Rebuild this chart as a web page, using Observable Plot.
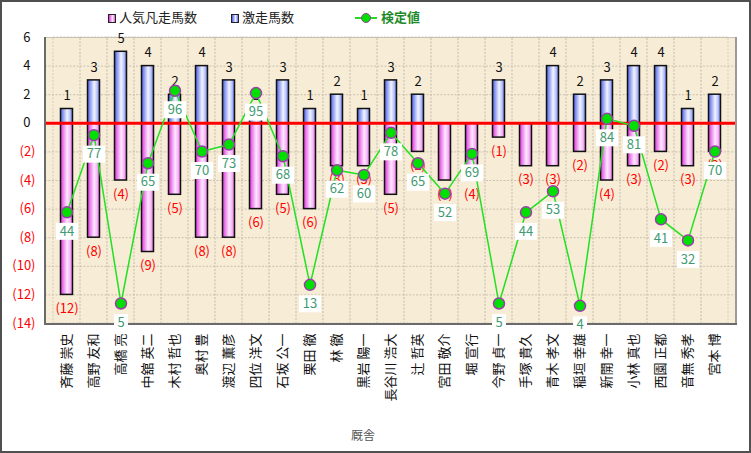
<!DOCTYPE html>
<html>
<head>
<meta charset="utf-8">
<script src="https://cdn.jsdelivr.net/npm/d3@7"></script>
<script src="https://cdn.jsdelivr.net/npm/@observablehq/plot@0.6"></script>
<style>
  body { margin: 0; background: #fff; }
  #wrap { position: relative; width: 751px; height: 453px; overflow: hidden; font-family: "Noto Sans CJK JP", sans-serif; }
  #wrap svg { position: absolute; left: 0; top: 0; }
  #border { position: absolute; left: 0; top: 0; width: 751px; height: 453px; box-sizing: border-box; border: 2px solid #505050; pointer-events: none; }
  .leg { position: absolute; font-size: 13px; line-height: 16px; color: #222; white-space: nowrap; }
  .sq { display: inline-block; width: 6px; height: 7px; border: 1px solid #222; margin-right: 3px; vertical-align: -1px; }
  .sq.pink { background: linear-gradient(90deg, #dd33dd, #fde8fd 60%, #e060e0); }
  .sq.blue { background: linear-gradient(90deg, #4a5ee8, #f2f4ff 60%, #6070e8); }
  .gline { display: inline-block; position: relative; width: 22px; height: 10px; margin-right: 4px; vertical-align: -1px; }
  .gline::before { content: ""; position: absolute; left: 0; right: 0; top: 4px; height: 2px; background: #22dd22; }
  .gline::after { content: ""; position: absolute; left: 6px; top: 0; width: 8px; height: 8px; border-radius: 50%; background: #00e000; border: 1px solid #9b3fa8; }
  #xlabel { position: absolute; left: 351px; top: 426px; font-size: 12px; color: #555; }
</style>
</head>
<body>
<div id="wrap">
  <div id="chart"></div>
  <div class="leg" style="left:108px; top:9px;"><span class="sq pink"></span>人気凡走馬数</div>
  <div class="leg" style="left:231px; top:9px;"><span class="sq blue"></span>激走馬数</div>
  <div class="leg" style="left:355px; top:9px; color:#1f8a2a; font-weight:bold;"><span class="gline"></span>検定値</div>
  <div id="xlabel">厩舎</div>
  <div id="border"></div>
</div>
<script>
const names = ["斉藤 崇史","高野 友和","高橋 亮","中舘 英二","木村 哲也","奥村 豊","渡辺 薫彦","四位 洋文","石坂 公一","栗田 徹","林 徹","黒岩 陽一","長谷川 浩大","辻 哲英","宮田 敬介","堀 宣行","今野 貞一","手塚 貴久","青木 孝文","稲垣 幸雄","新開 幸一","小林 真也","西園 正都","音無 秀孝","宮本 博"];
const gekiso = [1,3,5,4,2,4,3,1,3,1,2,1,3,2,0,0,3,0,4,2,3,4,4,1,2];
const bonso  = [12,8,4,9,5,8,8,6,5,6,3,3,5,2,4,4,1,3,3,2,4,3,2,3,2];
const kentei = [44,77,5,65,96,70,73,95,68,13,62,60,78,65,52,69,5,44,53,4,84,81,41,32,70];
const yTicks = [6,4,2,0,-2,-4,-6,-8,-10,-12,-14];

const data = names.map((name, i) => ({name, up: gekiso[i], down: -bonso[i], score: kentei[i]}));
// secondary axis (検定値) mapped onto the primary axis
const sec = d3.scaleLinear().domain([0, 100]).range([-13.42, 2.93]);
const ys = d => sec(d.score);
const box = w => ({draw(ctx) { ctx.rect(-w / 2, -8.5, w, 17); }});

const axisLines = (index, scales, values, dims) => {
  const {width, height, marginLeft: l, marginRight: r, marginTop: t, marginBottom: b} = dims;
  const g = d3.create("svg:g");
  const x2 = width - r, y2 = height - b;
  g.append("line").attr("x1", l).attr("x2", x2).attr("y1", t + 0.5).attr("y2", t + 0.5).attr("stroke", "#c8c0b0");
  g.append("line").attr("x1", x2 + 1).attr("x2", x2 + 1).attr("y1", t).attr("y2", y2 + 2).attr("stroke", "#9a9a9a").attr("stroke-width", 2);
  g.append("line").attr("x1", l).attr("x2", x2 + 2).attr("y1", y2 + 1).attr("y2", y2 + 1).attr("stroke", "#6a6a6a").attr("stroke-width", 2);
  g.append("line").attr("x1", l).attr("x2", l).attr("y1", t).attr("y2", y2 + 2).attr("stroke", "#6a6a6a").attr("stroke-width", 2);
  return g.node();
};

const chart = Plot.plot({
  width: 751,
  height: 453,
  marginLeft: 45,
  marginRight: 16,
  marginTop: 37,
  marginBottom: 130,
  style: {fontFamily: '"Noto Sans CJK JP", sans-serif', background: "transparent", overflow: "visible"},
  x: {type: "band", domain: names, padding: 0},
  y: {domain: [-14, 6], axis: null},
  marks: [
    Plot.frame({fill: "#f7ecd6", stroke: null}),
    Plot.barY(names, {x: d => d, y1: -14, y2: 6, fill: "none", stroke: "#d6ccbb", strokeDasharray: "2,1.5", strokeWidth: 1}),
    Plot.ruleY(yTicks, {stroke: "#cbc1af", strokeDasharray: "2,1.5"}),
    Plot.barY(data, {x: "name", y1: 0, y2: "down", fill: "url(#gPink)", stroke: "#111", strokeWidth: 1.5, insetLeft: 7.5, insetRight: 7.5}),
    Plot.barY(data.filter(d => d.up > 0), {x: "name", y1: 0, y2: "up", fill: "url(#gBlue)", stroke: "#111", strokeWidth: 1.5, insetLeft: 7.5, insetRight: 7.5}),
    Plot.ruleY([0], {stroke: "#ff0000", strokeWidth: 3}),
    axisLines,
    Plot.text(data.filter(d => d.up > 0), {x: "name", y: "up", text: d => String(d.up), dy: -13, fontSize: 13, fill: "#111"}),
    Plot.text(data, {x: "name", y: "down", text: d => `(${-d.down})`, dy: 14, fontSize: 13, fill: "#ff0000"}),
    Plot.line(data, {x: "name", y: ys, stroke: "#22e022", strokeWidth: 1.5}),
    Plot.dot(data, {x: "name", y: ys, r: 5.5, fill: "#00e000", stroke: "#9b3fa8", strokeWidth: 1.5}),
    Plot.dot(data.filter(d => d.score >= 10), {x: "name", y: ys, dy: 19, r: 8, symbol: box(22), fill: "white", stroke: "none"}),
    Plot.dot(data.filter(d => d.score < 10), {x: "name", y: ys, dy: 19, r: 8, symbol: box(14), fill: "white", stroke: "none"}),
    Plot.text(data, {x: "name", y: ys, dy: 19, text: d => String(d.score), fill: "#3f9a72", fontSize: 13}),
    Plot.text(yTicks.filter(d => d >= 0), {y: d => d, text: d => String(d), frameAnchor: "left", textAnchor: "end", dx: -15, fill: "#111", fontSize: 13}),
    Plot.text(yTicks.filter(d => d < 0), {y: d => d, text: d => `(${-d})`, frameAnchor: "left", textAnchor: "end", dx: -10, fill: "#ff0000", fontSize: 13}),
    Plot.axisX({tickRotate: -90, tickSize: 0, tickPadding: 10, fontSize: 13, label: null, fill: "#111"})
  ]
});

d3.select(chart).insert("defs", ":first-child").html(`
  <linearGradient id="gPink" x1="0" x2="1" y1="0" y2="0">
    <stop offset="0" stop-color="#dd33dd"/>
    <stop offset="0.55" stop-color="#fde8fd"/>
    <stop offset="0.8" stop-color="#f6b6f6"/>
    <stop offset="1" stop-color="#e060e0"/>
  </linearGradient>
  <linearGradient id="gBlue" x1="0" x2="1" y1="0" y2="0">
    <stop offset="0" stop-color="#4a5ee8"/>
    <stop offset="0.55" stop-color="#f2f4ff"/>
    <stop offset="0.8" stop-color="#b8c2f8"/>
    <stop offset="1" stop-color="#6070e8"/>
  </linearGradient>`);

document.getElementById("chart").appendChild(chart);
</script>
</body>
</html>
